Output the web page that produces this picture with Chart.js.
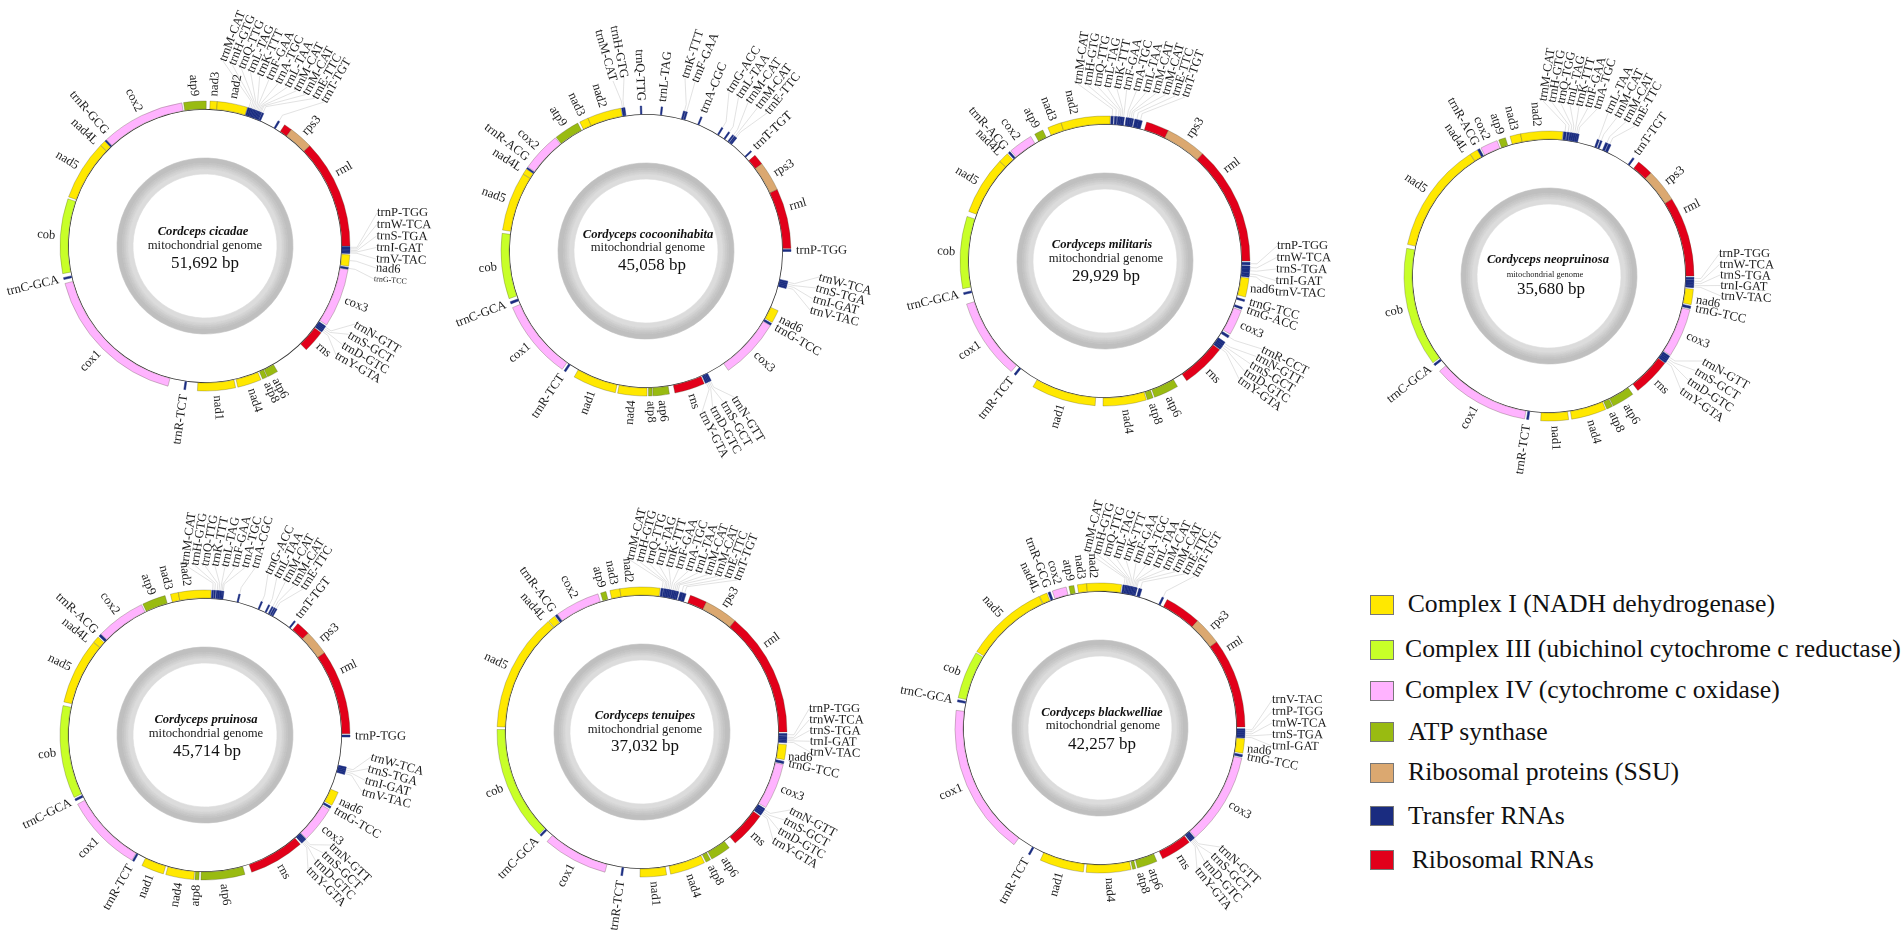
<!DOCTYPE html>
<html>
<head>
<meta charset="utf-8">
<title>Cordyceps mitochondrial genomes</title>
<script src="https://cdn.jsdelivr.net/npm/chart.js@4"></script>
<style>
  html, body { margin: 0; background: #fff; overflow: hidden; }
  #page { position: relative; width: 1902px; height: 936px; overflow: hidden; }
  canvas { position: absolute; }
  .swatch { position: absolute; width: 22.5px; height: 18px; border: 0.5px solid #777; }
  .entry { position: absolute; font: 25.7px "Liberation Serif", serif; color: #111; white-space: nowrap; line-height: 30px; }
</style>
</head>
<body>
<div id="page"></div>
<script>
// Genes in clockwise order, start and end read as degrees round each map (0 = top)
const cicadaeGenes = ['nad3','nad2','trnM-CAT','trnH-GTG','trnQ-TTG','trnL-TAG','trnK-TTT','trnF-GAA','trnA-TGC','trnL-TAA','trnM-CAT','trnM-CAT','trnE-TTC','trnT-TGT','rml_a','rps3','rml','trnP-TGG','trnW-TCA','trnS-TGA','trnI-GAT','trnV-TAC','nad6','trnG-TCC','cox3','trnN-GTT','trnS-GCT','trnD-GTC','trnY-GTA','rns','atp6','atp8','nad4','nad1','trnR-TCT','cox1','trnC-GCA','cob','nad5','nad4L','trnR-GCG','cox2','atp9'];
const cicadaeStart = [2,4.9,17.2,18,18.7,19.3,19.9,20.5,21,21.6,22.1,22.6,23.2,30.3,33.3,36.6,46.3,90.2,90.8,91.4,92,92.5,93.5,98.5,99.4,123.6,124.3,125,125.7,126.8,150,154.7,157.3,167.8,187.7,194.8,256.6,259,289.8,314,316.4,317.2,351.5];
const cicadaeEnd = [4.9,17,18,18.7,19.3,19.9,20.5,21,21.6,22.1,22.6,23,23.9,31,36.6,46.3,90,90.8,91.4,92,92.5,93,98,99.2,123,124.3,125,125.7,126.4,135.7,154.4,156.6,166.9,183,188.4,255,257.4,289,313.9,316.3,317,350.8,0.5];

const cocoonGenes = ['nad3','nad2','trnM-CAT','trnH-GTG','trnQ-TTG','trnL-TAG','trnK-TTT','trnF-GAA','trnA-CGC','trnG-ACC','trnL-TAA','trnM-CAT','trnM-CAT','trnE-TTC','trnT-TGT','rml_a','rps3','rml','trnP-TGG','trnW-TCA','trnS-TGA','trnI-GAT','trnV-TAC','nad6','trnG-TCC','cox3','trnN-GTT','trnS-GCT','trnD-GTC','trnY-GTA','rns','atp6','atp8','nad4','nad1','trnR-TCT','cox1','trnC-GCA','cob','nad5','nad4L','trnR-ACG','cox2','atp9'];
const cocoonStart = [332.8,336.4,350.3,351,357.7,6,15,15.9,22.2,31.5,34.7,36.7,37.6,38.2,46.2,48.7,53,64.9,89.4,102,102.8,103.5,104.2,114.3,120,121,153.3,153.9,154.5,155.1,156.3,170.7,177.5,179.6,192.2,213.6,215.3,248.6,250.8,278.3,302.1,304.6,305.5,321.7];
const cocoonEnd = [336.4,350,351,351.6,358.3,6.6,15.7,16.6,22.8,32.1,35.3,37.3,38.1,38.8,46.8,53,64.9,89,90.2,102.8,103.5,104.2,105,119.5,120.8,145.4,153.9,154.5,155.1,155.8,168.5,177.2,179,191.3,209.7,214.4,247,249.5,277,302,304.4,305.2,321.3,331.9];

const militarisGenes = ['nad3','nad2','trnM-CAT','trnH-GTG','trnQ-TTG','trnL-TAG','trnK-TTT','trnF-GAA','trnA-TGC','trnL-TAA','trnM-CAT','trnM-CAT','trnE-TTC','trnT-TGT','rml_a','rps3','rml','trnP-TGG','trnW-TCA','trnS-TGA','trnI-GAT','trnV-TAC','nad6','trnG-TCC','trnG-ACC','cox3','trnR-CCT','trnN-GTT','trnS-GCT','trnD-GTC','trnY-GTA','rns','atp6','atp8','nad4','nad1','trnR-TCT','cox1','trnC-GCA','cob','nad5','nad4L','trnR-ACG','cox2','atp9'];
const militarisStart = [336.8,342.4,2.4,3.8,5,5.7,6.4,7,8.4,9.2,10,10.7,11.9,13.4,16.7,25.9,42.3,90.5,92,93.2,94.6,95.7,96.8,105.5,108.6,110,121,124.1,125,125.9,126.7,127.8,150,160.6,163.4,183.9,218,220.3,256.6,259,290,313.5,318.2,319.5,331];
const militarisEnd = [342.4,2.1,3.3,4.7,5.7,6.4,7,7.7,9.2,10,10.7,11.4,13.4,14.9,25.9,42.3,90,91.6,93.2,94.5,95.7,96.4,104.4,106.2,109.4,120.3,122,125,125.9,126.7,127.5,145.7,160,163,180.8,209.8,218.8,252.7,257.4,287.9,313.4,317.7,319,329.2,334.6];

const neopruinosaGenes = ['nad3','nad2','trnM-CAT','trnH-GTG','trnQ-TGG','trnL-TAG','trnK-TTT','trnF-GAA','trnA-TGC','trnL-TAA','trnM-CAT','trnM-CAT','trnE-TTC','trnT-TGT','rml_a','rps3','rml','trnP-TGG','trnW-TCA','trnS-TGA','trnI-GAT','trnV-TAC','nad6','trnG-TCC','cox3','trnN-GTT','trnS-GCT','trnD-GTC','trnY-GTA','rns','atp6','atp8','nad4','nad1','trnR-TCT','cox1','trnC-GCA','cob','nad5','nad4L','trnR-ACG','cox2','atp9'];
const neopruinosaStart = [344.4,348.7,5.8,7.2,8.2,9,9.8,10.6,11.3,19.5,20.8,23,24.3,35.3,38.2,44.7,58,90.5,91.6,92.5,93.3,94,95.2,102,103.5,123.6,124.4,125.2,126,127,144.7,154,157,172.2,188.1,189.7,231.8,233.2,282.6,327.2,330.5,332,339.7];
const neopruinosaEnd = [348.7,5.5,6.9,8,9,9.8,10.6,11.3,12,20.3,21.5,24,25.3,36,44.7,58,90,91.4,92.5,93.3,94,94.6,101.4,103,123.2,124.4,125.2,126,126.8,142.2,153.7,156.5,171,183.3,188.9,229,232.6,281,327.1,330.4,331.4,339,342.5];

const pruinosaGenes = ['nad3','nad2','trnM-CAT','trnH-GTG','trnQ-TTG','trnK-TTT','trnL-TAG','trnF-GAA','trnA-TGC','trnA-CGC','trnG-ACC','trnL-TAA','trnM-CAT','trnM-CAT','trnE-TTC','trnT-TGT','rml_a','rps3','rml','trnP-TGG','trnW-TCA','trnS-TGA','trnI-GAT','trnV-TAC','nad6','trnG-TCC','cox3','trnN-GTT','trnS-GCT','trnD-GTC','trnY-GTA','rns','atp6','atp8','nad4','nad1','trnR-TCT','cox1','trnC-GCA','cob','nad5','nad4L','trnR-ACG','cox2','atp9'];
const pruinosaStart = [346.2,349.4,2.7,3.6,4.5,5.2,5.9,6.6,7,13.5,22.8,26,27.5,28.4,29.2,38,39.8,45.4,55.5,90,102.8,103.6,104.3,105,113.3,119.6,121,135.9,136.5,137.1,137.7,138.9,164,182.4,184.4,196.7,209.3,210.3,243,244.5,283.2,309.8,313,314.2,334.6];
const pruinosaEnd = [349.4,2.4,3.4,4.2,5.2,5.9,6.6,7,7.5,14.1,23.4,26.6,28.1,29,29.8,38.6,45.4,55.5,89.5,90.8,103.6,104.3,105,105.8,119,120.4,135.6,136.5,137.1,137.7,138.2,161.2,181.6,184,195.7,205.8,210,241.5,243.8,281.7,309.7,312.5,314,334,344];

const tenuipesGenes = ['nad3','nad2','trnM-CAT','trnH-GTG','trnQ-TTG','trnL-TAG','trnK-TTT','trnF-GAA','trnA-TGC','trnL-TAA','trnM-CAT','trnM-CAT','trnE-TTC','trnT-TGT','rml_a','rps3','rml','trnP-TGG','trnW-TCA','trnS-TGA','trnI-GAT','trnV-TAC','nad6','trnG-TCC','cox3','trnN-GTT','trnS-GCT','trnD-GTC','trnY-GTA','rns','atp6','atp8','nad4','nad1','trnR-TCT','cox1','trnC-GCA','cob','nad5','nad4L','trnR-ACG','cox2','atp9'];
const tenuipesStart = [347.2,351.2,7.6,8.6,9.2,9.8,10.5,11.2,12,12.7,13.4,14,15.3,16.5,19.5,26.4,39.9,90.6,91.7,92.4,93,93.7,95,101.7,103,122,122.8,123.6,124.3,125.5,143,151.8,154.5,170.2,187.7,194.8,224,225.2,272.1,320,323.3,324.4,343.4];
const tenuipesEnd = [351.2,7.2,8.4,9.2,9.8,10.5,11.2,11.9,12.7,13.4,14,14.7,16.5,17.7,26.4,39.9,90,91.5,92.4,93,93.7,94.3,101,102.6,121.4,122.8,123.6,124.3,125,140,151.2,153.8,168.6,180.8,188.4,220.9,224.8,271,319.7,322.9,324.2,342.3,345.6];

const blackwelliaeGenes = ['nad3','nad2','trnM-CAT','trnH-GTG','trnQ-TTG','trnL-TAG','trnK-TTT','trnF-GAA','trnA-TGC','trnL-TAA','trnM-CAT','trnM-CAT','trnE-TTC','trnT-TGT','rml_a','rps3','rml','trnV-TAC','trnP-TGG','trnW-TCA','trnS-TGA','trnI-GAT','nad6','trnG-TCC','cox3','trnN-GTT','trnS-GCT','trnD-GTC','trnY-GTA','rns','atp6','atp8','nad4','nad1','trnR-TCT','cox1','trnC-GCA','cob','nad5','nad4L','trnR-GCG','cox2','atp9'];
const blackwelliaeStart = [351,354.7,9.1,10,10.5,11.1,11.7,12.3,12.9,13.5,14,14.5,15.6,25.4,27.6,42.3,53.6,90.3,91,91.8,92.6,93.3,94.3,100.6,102,139.3,139.9,140.4,141,142,156.9,165.7,167.6,186.6,208.9,216.4,280.4,282,301.8,335.4,339,340.8,347.6];
const blackwelliaeEnd = [354.7,8.6,9.9,10.5,11.1,11.7,12.3,12.9,13.5,14,14.5,14.9,16.8,26.1,42.3,53.6,89.6,91,91.8,92.6,93.3,94,100,101.5,138.9,139.9,140.4,141,141.5,154.4,165,167,185.5,204.3,209.6,277,281.2,301.2,335.2,338.5,339.9,346.5,349.6];

const speciesNames = ['Cordceps cicadae','Cordyceps cocoonihabita','Cordyceps militaris','Cordyceps neopruinosa','Cordyceps pruinosa','Cordyceps tenuipes','Cordyceps blackwelliae'];
const genomeSizes = ['51,692 bp','45,058 bp','29,929 bp','35,680 bp','45,714 bp','37,032 bp','42,257 bp'];

const legendLabels = ['Complex I (NADH dehydrogenase)','Complex III (ubichinol cytochrome c reductase)','Complex IV (cytochrome c oxidase)','ATP synthase','Ribosomal proteins (SSU)','Transfer RNAs','Ribosomal RNAs'];
const legendColors = ['#ffe800','#c8ff28','#ffb3ff','#99bb11','#dba870','#1a2c80','#e2001a'];

// Layout: label fans are [dx, dy, rotation] from the map centre
const layouts = [
  { c: [205, 246], text: [[-2,-14],[0,0],[0,18]],
    angle: { 'trnR-GCG': 319, 'nad4L': 313.5, 'rml': 61 },
    fans: [
      { at: 2, n: 12, from: [18,-185,-69], to: [119,-144,-60] },
      { at: 17, n: 5, from: [172,-33,0], to: [171,13,2] },
      { at: 22, n: 1, from: [171,22,4] },
      { at: 23, n: 1, from: [169,33,5], size: 8 },
      { at: 25, n: 4, from: [150,78,31], to: [131,109,30] }
    ] },
  { c: [646, 251], text: [[2,-16],[2,-3],[6,15]],
    angle: { 'trnR-ACG': 308, 'rml': 73 },
    fans: [
      { at: 2, n: 2, from: [-33,-170,74], to: [-22,-173,79], end: true },
      { at: 6, n: 2, from: [39,-173,-72], to: [49,-169,-67] },
      { at: 9, n: 5, from: [83,-159,-57], to: [121,-138,-51] },
      { at: 19, n: 4, from: [173,26,15.7], to: [164,59,14.6] },
      { at: 26, n: 4, from: [88,146,58], to: [56,161,63] }
    ] },
  { c: [1105, 261], text: [[-3,-16],[1,-2],[1,16]],
    angle: { 'nad2': 348, 'rml': 53 },
    fans: [
      { at: 2, n: 12, from: [-27,-177,-82], to: [80,-164,-71] },
      { at: 17, n: 5, from: [172,-15,0], to: [170,31,2] },
      { at: 22, n: 1, from: [145,28,2], bare: true },
      { at: 26, n: 5, from: [157,88,26.6], to: [134,118,35.5] }
    ] },
  { c: [1549, 276], text: [[-1,-16],[-4,-1],[2,14]], subSize: 8.5,
    angle: { 'nad2': 355.3, 'nad4L': 326, 'rml': 64 },
    fans: [
      { at: 2, n: 7, from: [-6,-175,-81], to: [48,-167,-72.6] },
      { at: 9, n: 4, from: [59,-163,-64.4], to: [86,-150,-60.7] },
      { at: 17, n: 5, from: [170,-22,0], to: [172,20,3] },
      { at: 22, n: 1, from: [147,24,10], bare: true },
      { at: 25, n: 4, from: [154,85,29.7], to: [132,114,35.7] }
    ] },
  { c: [205, 735], text: [[1,-15],[1,-1],[2,17]],
    angle: { 'nad2': 353, 'nad3': 346, 'nad4L': 309, 'rml': 64.6 },
    fans: [
      { at: 2, n: 8, from: [-20,-170,-82], to: [50,-167,-74] },
      { at: 10, n: 5, from: [63,-161,-64], to: [98,-146,-57] },
      { at: 20, n: 4, from: [166,22,16], to: [157,57,14.5] },
      { at: 27, n: 4, from: [126,110,43], to: [103,134,45] }
    ] },
  { c: [642, 732], text: [[3,-16],[3,-2],[3,15]],
    angle: { 'nad2': 355, 'nad4L': 319, 'rml': 54.7 },
    fans: [
      { at: 2, n: 12, from: [-12,-172,-76], to: [95,-152,-68.6] },
      { at: 17, n: 5, from: [167,-23,0], to: [168,20,2] },
      { at: 22, n: 1, from: [146,25,2], bare: true },
      { at: 25, n: 4, from: [148,78,28], to: [131,108,30.6] }
    ] },
  { c: [1100, 728], text: [[2,-15],[3,-2],[2,17]],
    angle: { 'nad2': 357.5, 'nad4L': 335, 'atp6': 160, 'atp8': 164.5, 'rml': 58 },
    fans: [
      { at: 2, n: 12, from: [-13,-176,-76], to: [95,-152,-60] },
      { at: 17, n: 5, from: [172,-28,0], to: [172,18,1] },
      { at: 22, n: 1, from: [147,21,5], bare: true },
      { at: 25, n: 4, from: [120,119,42.5], to: [97,141,51] }
    ] }
];
const legendTop = [604, 649, 690, 731.5, 772, 815.5, 859.5];
const legendLeft = [1407.7, 1405, 1405, 1408, 1408, 1408, 1411.7];

const allGenes = [cicadaeGenes, cocoonGenes, militarisGenes, neopruinosaGenes, pruinosaGenes, tenuipesGenes, blackwelliaeGenes];
const allStart = [cicadaeStart, cocoonStart, militarisStart, neopruinosaStart, pruinosaStart, tenuipesStart, blackwelliaeStart];
const allEnd = [cicadaeEnd, cocoonEnd, militarisEnd, neopruinosaEnd, pruinosaEnd, tenuipesEnd, blackwelliaeEnd];

const HALF = 260;
const SERIF = '"Liberation Serif", serif';

function geneColor(name) {
  if (name.startsWith('nad')) return legendColors[0];
  if (name === 'cob') return legendColors[1];
  if (name.startsWith('cox')) return legendColors[2];
  if (name.startsWith('atp')) return legendColors[3];
  if (name.startsWith('rps')) return legendColors[4];
  if (name.startsWith('trn')) return legendColors[5];
  return legendColors[6];
}

function arcSize(a, b) {
  return (b - a + 360) % 360;
}

// Turns one map's genes into doughnut slices: gene, gap, gene, gap ...
function ringData(genes, start, end) {
  const values = [], colors = [], borders = [], widths = [];
  genes.forEach(function(name, i) {
    const next = start[(i + 1) % genes.length];
    values.push(arcSize(start[i], end[i]));
    colors.push(geneColor(name));
    borders.push(name.startsWith('trn') ? '#1a2c80' : 'rgba(70,70,40,0.55)');
    widths.push(0.5);
    values.push(arcSize(end[i], next));
    colors.push('rgba(0,0,0,0)');
    borders.push('rgba(0,0,0,0)');
    widths.push(0);
  });
  return { values, colors, borders, widths };
}

function plainRing(color, weight, seam) {
  return { data: [1], backgroundColor: [color], borderColor: [color], borderWidth: seam || 0, weight: weight };
}

function labelPlugin(index) {
  const genes = allGenes[index], start = allStart[index], end = allEnd[index];
  const layout = layouts[index];
  const R_BAND = 145, R_ELBOW = 152, R_LABEL = 150;

  function midAngle(i) {
    return (start[i] + arcSize(start[i], end[i]) / 2) % 360;
  }
  function polar(angle, r) {
    const a = angle * Math.PI / 180;
    return [Math.sin(a) * r, -Math.cos(a) * r];
  }
  function put(ctx, text, x, y, rot, align, size) {
    ctx.save();
    ctx.translate(x, y);
    ctx.rotate(rot * Math.PI / 180);
    ctx.textAlign = align;
    ctx.textBaseline = 'middle';
    ctx.font = size + 'px ' + SERIF;
    ctx.fillStyle = '#1c1c1c';
    ctx.fillText(text, 0, 0);
    ctx.restore();
  }

  return {
    id: 'geneLabels' + index,
    afterDraw(chart) {
      const ctx = chart.ctx;
      ctx.save();
      ctx.translate(HALF, HALF);

      const fanned = {};
      layout.fans.forEach(function(fan) {
        for (let k = 0; k < fan.n; k++) {
          const t = fan.n > 1 ? k / (fan.n - 1) : 0;
          const to = fan.to || fan.from;
          const x = fan.from[0] + (to[0] - fan.from[0]) * t;
          const y = fan.from[1] + (to[1] - fan.from[1]) * t;
          const rot = fan.from[2] + (to[2] - fan.from[2]) * t;
          const i = fan.at + k;
          fanned[i] = true;
          if (!fan.bare) {
            const a = polar(midAngle(i), R_BAND + 0.5);
            const b = polar(midAngle(i), R_ELBOW);
            ctx.beginPath();
            ctx.moveTo(a[0], a[1]);
            ctx.lineTo(b[0], b[1]);
            ctx.lineTo(x, y);
            ctx.strokeStyle = '#d6d6d6';
            ctx.lineWidth = 0.7;
            ctx.stroke();
          }
          put(ctx, genes[i], x, y, rot, fan.end ? 'right' : 'left', fan.size || 12.6);
        }
      });

      genes.forEach(function(name, i) {
        if (fanned[i] || name.includes('_')) return;
        const angle = layout.angle[name] !== undefined ? layout.angle[name] : midAngle(i);
        const p = polar(angle, R_LABEL);
        if (angle < 180) put(ctx, name, p[0], p[1], angle - 90, 'left', 12.6);
        else put(ctx, name, p[0], p[1], angle + 90, 'right', 12.6);
      });

      // Centre text
      ctx.textAlign = 'center';
      ctx.textBaseline = 'middle';
      ctx.fillStyle = '#111';
      ctx.font = 'italic bold 12.6px ' + SERIF;
      ctx.fillText(speciesNames[index], layout.text[0][0], layout.text[0][1]);
      ctx.fillStyle = '#222';
      ctx.font = (layout.subSize || 12.7) + 'px ' + SERIF;
      ctx.fillText('mitochondrial genome', layout.text[1][0], layout.text[1][1]);
      ctx.fillStyle = '#111';
      ctx.font = '17px ' + SERIF;
      ctx.fillText(genomeSizes[index], layout.text[2][0], layout.text[2][1]);
      ctx.restore();
    }
  };
}

const page = document.getElementById('page');

layouts.forEach(function(layout, index) {
  const canvas = document.createElement('canvas');
  canvas.width = HALF * 2;
  canvas.height = HALF * 2;
  canvas.style.left = (layout.c[0] - HALF) + 'px';
  canvas.style.top = (layout.c[1] - HALF) + 'px';
  page.appendChild(canvas);

  const ring = ringData(allGenes[index], allStart[index], allEnd[index]);
  new Chart(canvas.getContext('2d'), {
    type: 'doughnut',
    data: {
      datasets: [
        { data: ring.values, backgroundColor: ring.colors, borderColor: ring.borders, borderWidth: ring.widths, weight: 8 },
        plainRing('#333333', 0.8),
        plainRing('rgba(0,0,0,0)', 48.2),
        plainRing('#bfbfbf', 5, 0.6),
        plainRing('#c5c5c5', 2, 0.6),
        plainRing('#cccccc', 2, 0.6),
        plainRing('#d4d4d4', 2, 0.6),
        plainRing('#dcdcdc', 5, 0.6)
      ]
    },
    options: {
      responsive: false,
      animation: false,
      events: [],
      radius: 145,
      cutout: (72 / 145 * 100) + '%',
      rotation: allStart[index][0],
      layout: { padding: 0 },
      plugins: { legend: { display: false }, tooltip: { enabled: false } }
    },
    plugins: [labelPlugin(index)]
  });
});

// Legend
legendLabels.forEach(function(label, i) {
  const box = document.createElement('div');
  box.className = 'swatch';
  box.style.left = '1369.5px';
  box.style.top = (legendTop[i] - 9.25) + 'px';
  box.style.background = legendColors[i];
  page.appendChild(box);
  const text = document.createElement('div');
  text.className = 'entry';
  text.style.left = legendLeft[i] + 'px';
  text.style.top = (legendTop[i] - 15) + 'px';
  text.textContent = label;
  page.appendChild(text);
});
</script>
</body>
</html>
